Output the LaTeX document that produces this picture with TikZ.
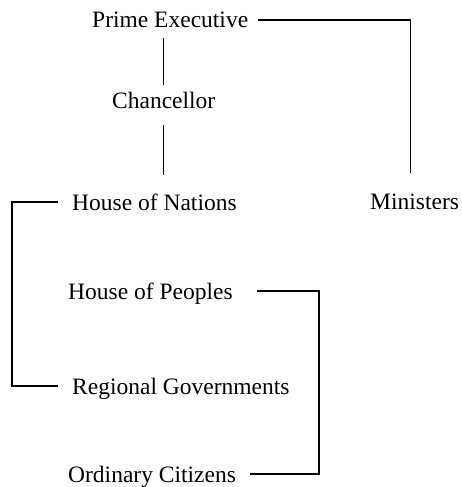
\documentclass[tikz,border=0pt]{standalone}
\usepackage{fontspec}
\setmainfont{Liberation Serif}
\begin{document}
\begin{tikzpicture}[x=1pt, y=-1pt, font=\fontsize{23.5}{28}\selectfont,
      office/.style={anchor=west, inner sep=0pt, text height=16pt, text depth=0pt},
      link/.style={line width=1.3pt}]
    \useasboundingbox (0,0) rectangle (462,487);
    \node[office] (prime) at (92,20) {Prime Executive};
    \node[office] (chanc) at (112,100) {Chancellor};
    \node[office] (nations) at (72,202) {House of Nations};
    \node[office] (min) at (370,201) {Ministers};
    \node[office] (peoples) at (68,291) {House of Peoples};
    \node[office] (regional) at (72,386) {Regional Governments};
    \node[office] (citizens) at (68,474) {Ordinary Citizens};
    \draw[link, shorten <=10pt, shorten >=20pt] (prime.east) -| ([xshift=-4pt]min.north);
    \draw[link, shorten <=10pt, shorten >=7pt] (prime.south -| chanc.north) -- (chanc.north);
    \draw[link, shorten <=17pt, shorten >=19pt] (chanc.south) -- (chanc.south |- nations.north);
    \draw[link, shorten <=14pt, shorten >=14pt] (nations.west) -| ([xshift=-60pt]regional.west) |- (regional.west);
    \draw[link, shorten <=24pt, shorten >=14pt] (peoples.east) -| ([xshift=86pt]peoples.east |- citizens.east) |- (citizens.east);
  \end{tikzpicture}
\end{document}
